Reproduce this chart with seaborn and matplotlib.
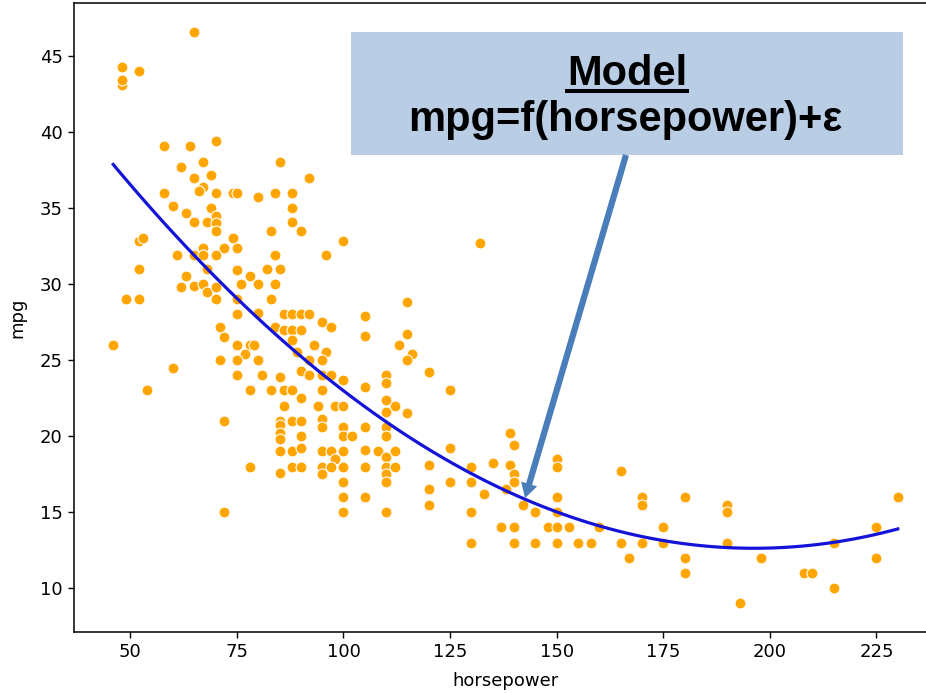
import pandas as pd
import matplotlib.pyplot as plt
import seaborn as sns
from matplotlib.patches import Rectangle, FancyArrowPatch, ArrowStyle
from matplotlib.lines import Line2D

# points (horsepower, mpg)
horsepower = [48, 48, 48, 52, 65, 58, 64, 70, 62, 67, 65, 69, 85, 92, 67, 66, 58, 70, 74, 75,
              80, 84, 88, 60, 63, 69, 70, 65, 68, 70, 70, 83, 88, 88, 90, 52, 53, 74, 75, 72,
              67, 100, 132, 61, 65, 67, 70, 84, 96, 52, 68, 75, 82, 85, 63, 78, 62, 65, 67, 68,
              70, 76, 80, 84, 49, 52, 70, 75, 83, 75, 80, 86, 88, 90, 92, 105, 115, 95, 97, 71,
              84, 86, 88, 90, 105, 115, 72, 75, 78, 79, 88, 93, 46, 113, 77, 96, 89, 116, 71, 75,
              80, 92, 95, 115, 60, 75, 81, 85, 90, 92, 95, 97, 120, 110, 100, 110, 105, 78, 83, 86,
              88, 95, 125, 90, 54, 86, 94, 98, 100, 112, 110, 110, 115, 72, 85, 88, 90, 95, 95, 100,
              105, 85, 100, 102, 110, 110, 85, 85, 90, 139, 85, 88, 90, 95, 97, 100, 105, 108, 112, 125,
              140, 98, 110, 78, 88, 90, 95, 97, 100, 105, 110, 112, 120, 130, 135, 139, 150, 150, 165, 85,
              95, 110, 140, 100, 110, 125, 130, 140, 120, 133, 138, 100, 105, 150, 170, 180, 230, 120, 142, 170,
              190, 72, 100, 110, 130, 145, 150, 190, 137, 140, 148, 150, 153, 160, 175, 225, 130, 140, 145, 150,
              155, 158, 165, 170, 175, 190, 215, 167, 180, 198, 225, 180, 208, 210, 215, 193]
mpg = [43.1, 43.4, 44.3, 44.0, 46.6, 39.1, 39.1, 39.4, 37.7, 38.0, 37.0, 37.2, 38.0, 37.0, 36.4, 36.1, 36.0, 36.0, 36.0, 36.0,
       35.7, 36.0, 36.0, 35.1, 34.7, 35.0, 34.5, 34.1, 34.1, 34.0, 33.5, 33.5, 35.0, 34.1, 33.5, 32.8, 33.0, 33.0, 32.4, 32.4,
       32.4, 32.8, 32.7, 31.9, 31.9, 31.9, 31.9, 31.9, 31.9, 31.0, 31.0, 30.9, 31.0, 31.0, 30.5, 30.5, 29.8, 29.9, 30.0, 29.5,
       29.8, 30.0, 30.0, 30.0, 29.0, 29.0, 29.0, 29.0, 29.0, 28.0, 28.1, 28.0, 28.0, 28.0, 28.0, 27.9, 28.8, 27.5, 27.2, 27.2,
       27.2, 27.0, 27.0, 27.0, 26.6, 26.7, 26.5, 26.0, 26.0, 26.0, 26.3, 26.0, 26.0, 26.0, 25.4, 25.5, 25.5, 25.4, 25.0, 25.0,
       25.0, 25.0, 25.0, 25.0, 24.5, 24.0, 24.0, 23.9, 24.3, 24.0, 24.0, 24.0, 24.2, 24.0, 23.7, 23.5, 23.2, 23.0, 23.0, 23.0,
       23.0, 23.0, 23.0, 22.5, 23.0, 22.0, 22.0, 22.0, 22.0, 22.0, 22.4, 21.6, 21.5, 21.0, 21.0, 21.0, 21.0, 21.1, 20.6, 20.6,
       20.6, 20.7, 20.0, 20.0, 20.6, 20.0, 20.2, 19.8, 20.0, 20.2, 19.0, 19.0, 19.2, 19.0, 19.0, 19.0, 19.1, 19.0, 19.0, 19.2,
       19.4, 18.5, 18.6, 18.0, 18.0, 18.0, 18.0, 18.0, 18.0, 18.0, 18.0, 18.0, 18.1, 18.0, 18.2, 18.1, 18.5, 18.0, 17.7, 17.6,
       17.5, 17.5, 17.5, 17.0, 17.0, 17.0, 17.0, 17.0, 16.5, 16.2, 16.5, 16.0, 16.0, 16.0, 16.0, 16.0, 16.0, 15.5, 15.5, 15.5,
       15.5, 15.0, 15.0, 15.0, 15.0, 15.0, 15.0, 15.0, 14.0, 14.0, 14.0, 14.0, 14.0, 14.0, 14.0, 14.0, 13.0, 13.0, 13.0, 13.0,
       13.0, 13.0, 13.0, 13.0, 13.0, 13.0, 13.0, 12.0, 12.0, 12.0, 12.0, 11.0, 11.0, 11.0, 10.0, 9.0]

model_title = 'Model'
model_formula = 'mpg=f(horsepower)+ε'

df = pd.DataFrame({'horsepower': horsepower, 'mpg': mpg})

W, H = 926, 693
fig = plt.figure(figsize=(W / 100, H / 100), dpi=100)
ax = fig.add_axes([74 / W, 1 - 632 / H, 863 / W, 629 / H])

sns.scatterplot(data=df, x='horsepower', y='mpg', color='orange', s=62,
                edgecolor='white', linewidth=0.8, ax=ax, zorder=2)
# second order polynomial fit
sns.regplot(data=df, x='horsepower', y='mpg', order=2, scatter=False, ci=None,
            color='#1414d8', line_kws={'lw': 2.3, 'zorder': 3}, ax=ax)

ax.set_xlabel('horsepower', fontsize=13, labelpad=7.5)
ax.set_ylabel('mpg', fontsize=13, labelpad=9.5)
ax.tick_params(labelsize=13, length=4.6, width=1.0)
ax.set_xticks([50, 75, 100, 125, 150, 175, 200, 225])
ax.set_yticks([10, 15, 20, 25, 30, 35, 40, 45])
for sp in ax.spines.values():
    sp.set_linewidth(1.1)

# annotation box on top of the chart
font = ['Liberation Sans', 'DejaVu Sans']
fig.add_artist(Rectangle((351 / W, 1 - 155 / H), 552 / W, 123 / H, transform=fig.transFigure,
                         facecolor='#b9cde5', edgecolor='none', zorder=5))
t1 = fig.text(627 / W, 1 - 85 / H, model_title, ha='center', va='baseline', fontsize=30,
              fontweight='bold', family=font, zorder=6)
fig.text(625 / W, 1 - 131 / H, model_formula, ha='center', va='baseline', fontsize=30,
         fontweight='bold', family=font, zorder=6)

fig.canvas.draw()
bb = t1.get_window_extent()
fig.add_artist(Line2D([bb.x0 / W, bb.x1 / W], [1 - 91 / H, 1 - 91 / H], transform=fig.transFigure,
                      color='black', lw=2.9, zorder=6))

arrow = FancyArrowPatch(posA=(626 / W, 1 - 155 / H), posB=(525 / W, 1 - 498 / H),
                        transform=fig.transFigure,
                        arrowstyle=ArrowStyle.Simple(head_length=0.7, head_width=0.8, tail_width=0.3),
                        mutation_scale=15, color='#4a7ebb', lw=0, shrinkA=0, shrinkB=0, zorder=6)
fig.add_artist(arrow)

fig.savefig('out.png', dpi=100)
